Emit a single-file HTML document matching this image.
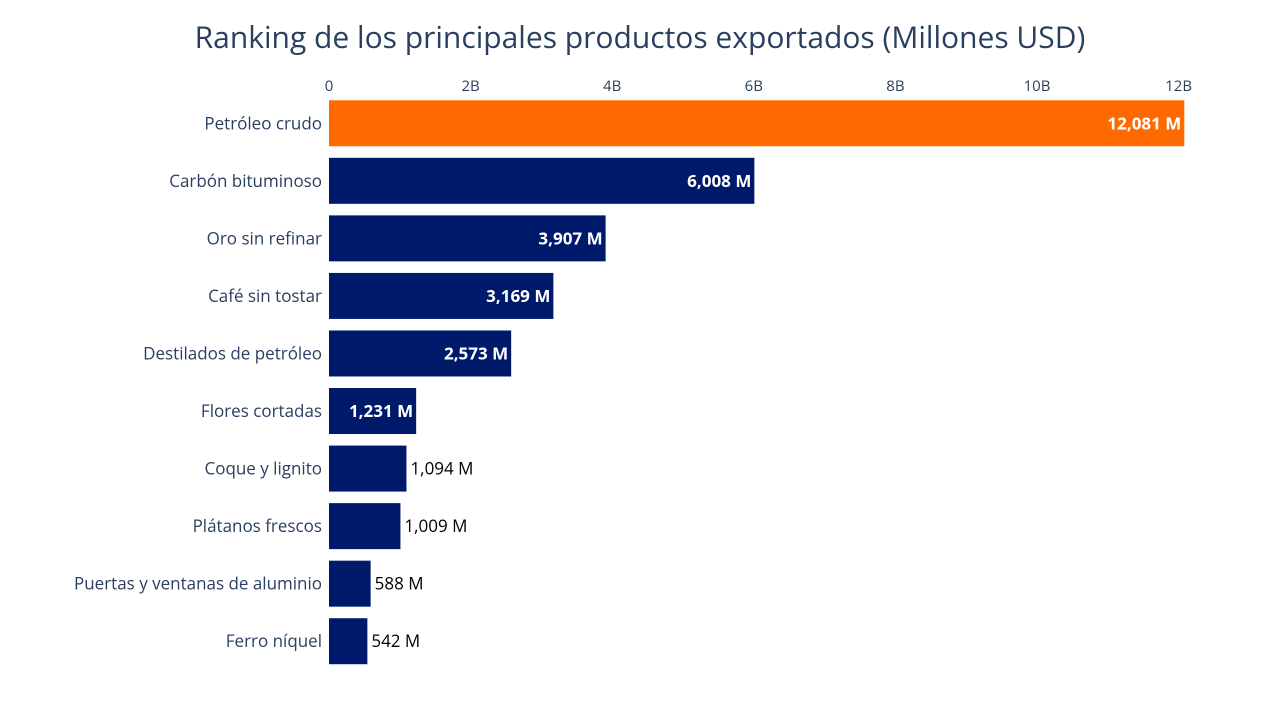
<!DOCTYPE html>
<html><head><meta charset="utf-8"><style>
body{margin:0;background:#fff;}
svg{display:block;font-family:"Open Sans","Liberation Sans",sans-serif;}
</style></head><body>
<svg id="chart" width="1280" height="720">
<text x="640" y="48" text-anchor="middle" font-size="30" fill="#2a3f5f">Ranking de los principales productos exportados (Millones USD)</text>
<g id="axis"></g><g id="bars"></g>
</svg>
<script>
const categories=["Petróleo crudo","Carbón bituminoso","Oro sin refinar","Café sin tostar","Destilados de petróleo","Flores cortadas","Coque y lignito","Plátanos frescos","Puertas y ventanas de aluminio","Ferro níquel"];
const values=[12081,6008,3907,3169,2573,1231,1094,1009,588,542];
const tickValues=[0,2000,4000,6000,8000,10000,12000];
const tickLabels=["0","2B","4B","6B","8B","10B","12B"];
const NS="http://www.w3.org/2000/svg";
const x0=329,pxPerM=70.8/1000,plotTop=94.5,band=57.55;
const X=v=>x0+v*pxPerM;
const Y=i=>plotTop+i*band;
const ax=document.getElementById('axis'),bg=document.getElementById('bars');
function mk(tag,attrs,parent,txt){const e=document.createElementNS(NS,tag);for(const k in attrs)e.setAttribute(k,attrs[k]);if(txt!==undefined)e.textContent=txt;parent.appendChild(e);return e;}
tickValues.forEach((v,i)=>{
 const t=mk('text',{x:X(v),y:91,'text-anchor':'middle','font-size':15,fill:'#2a3f5f'},ax,tickLabels[i]);
 
 
});
categories.forEach((c,i)=>{
 const yc=Y(i)+band/2;
 const color=i===0?'#ff6a00':'#001a6b';
 const r=mk('rect',{x:x0,y:yc-23,width:X(values[i])-x0,height:46,fill:color},bg);
 
 
 const l=mk('text',{x:322,y:yc+6,'text-anchor':'end','font-size':17,fill:'#2a3f5f'},bg,c);
 
 
 const lab=values[i].toLocaleString('en-US')+' M';
 const w=X(values[i])-x0;
 let t;
 if(w>80){t=mk('text',{x:X(values[i])-3,y:yc+6,'text-anchor':'end','font-size':17,'font-weight':'bold',fill:'#fff'},bg,lab);}
 else{t=mk('text',{x:X(values[i])+4,y:yc+6,'text-anchor':'start','font-size':17,fill:'#000'},bg,lab);}
 
 
});
</script>
</body></html>
